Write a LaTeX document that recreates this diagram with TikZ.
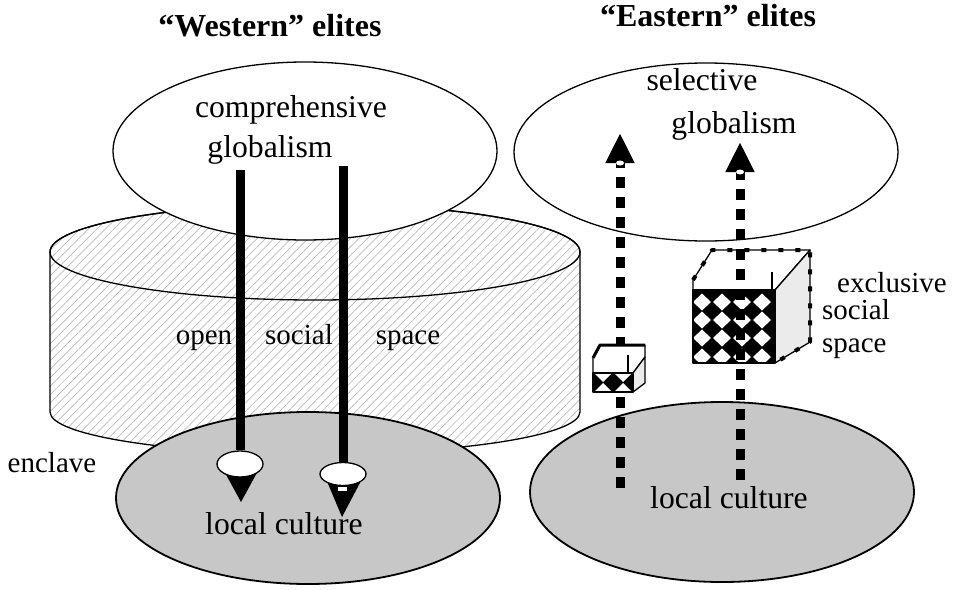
\documentclass[tikz,border=0pt]{standalone}
\usepackage{fontspec}
\setmainfont{Liberation Serif}
\usetikzlibrary{shapes.geometric,arrows.meta,patterns.meta}

\begin{document}
\begin{tikzpicture}[x=1pt,y=-1pt,line join=round,>={Triangle[width=27pt,length=30pt]},
    oval/.style={ellipse,draw,line width=1.3pt,minimum width=384pt,minimum height=178pt,inner sep=0pt},
    txt/.style={font=\fontsize{31.7}{36}\selectfont,inner sep=0pt,anchor=base},
    sidetxt/.style={font=\fontsize{29}{33}\selectfont,inner sep=0pt,anchor=base west},
    ttl/.style={font=\bfseries\fontsize{32}{36}\selectfont,inner sep=0pt,anchor=base},
    bulb/.style={ellipse,draw,fill=white,line width=1.3pt,inner sep=0pt},
    solidarr/.style={line width=9pt},
    dasharr/.style={line width=9pt,dash pattern=on 11pt off 9pt,->},
    teeth/.style={line width=4pt,dash pattern=on 5pt off 12pt}]
    \useasboundingbox (0,0) rectangle (953,589);
    % open social space
    \def\cylbody{(50,252) -- (50,412) arc[start angle=180,end angle=0,x radius=265,y radius=42] -- (580,252) arc[start angle=0,end angle=-180,x radius=265,y radius=48] -- cycle}
    \path[pattern={Lines[angle=45,distance=6pt,line width=0.7pt]},pattern color=gray!55] \cylbody;
    \draw[line width=1.3pt] \cylbody;
    \draw[line width=1.3pt] (315,252) ellipse[x radius=265,y radius=48];
    \node[sidetxt,anchor=base] (open) at (204,344) {open};
    \node[sidetxt,anchor=base] (social) at (299,344) {social};
    \node[sidetxt,anchor=base] (space) at (408,344) {space};
    \node[sidetxt,anchor=base] (enclave) at (52,472) {enclave};

    \node[ttl] (west) at (270,36) {``Western'' elites};
    \node[ttl] (east) at (708,27) {``Eastern'' elites};

    \node[oval,fill=white] (globW) at (305,151) {};
    \node[oval,fill=white] (globE) at (706,152) {};
    \node[oval,fill=black!22,line width=1.8pt,minimum height=172pt] (localW) at (308,498) {};
    \node[oval,fill=black!22,line width=1.8pt,minimum height=180pt] (localE) at (722,492) {};

    \node[txt] (compr) at (291,117) {comprehensive};
    \node[txt] (globtxtW) at (270,157) {globalism};
    \node[txt] (select) at (702,90) {selective};
    \node[txt] (globtxtE) at (734,133) {globalism};
    \node[txt] (localtxtW) at (284,534) {local culture};
    \node[txt] (localtxtE) at (729,508) {local culture};

    % western arrows
    \fill (223,469) -- (259,469) -- (241,502) -- cycle;
    \fill (326,479) -- (362,479) -- (342,517) -- cycle;
    \fill[white] (338,487) rectangle (347,491);
    \node[bulb,minimum width=46pt,minimum height=26pt] (bulbA) at (240,464) {};
    \node[bulb,minimum width=46pt,minimum height=23pt] (bulbB) at (343,474) {};
    \coordinate (srcA) at (240,170);
    \coordinate (srcB) at (343,166);
    \draw[solidarr] (srcA) -- (bulbA.north);
    \draw[solidarr] (srcB) -- (bulbB.north);

    % eastern arrows and boxes
    \coordinate (baseC) at (620,488);
    \coordinate (tipC) at (620,133);
    \draw[dasharr] (baseC) -- (tipC);
    \fill[white] (620,163) ellipse[x radius=4,y radius=2.5];

    \filldraw[fill=white,line width=1.3pt] (593,373) -- (593,358) -- (600,345) -- (645,345) -- (645,357) -- (633,373) -- cycle;
    \filldraw[fill=black!8,line width=1.3pt] (633,373) -- (645,357) -- (645,383) -- (633,392) -- cycle;
    \begin{scope}
        \clip (593,373) rectangle (633,392);
        \fill (593,373) rectangle (633,392);
        \foreach \px in {603,623} \foreach \py in {373,392}
            \fill[white] (\px,\py) +(-9,0) -- +(0,-9) -- +(9,0) -- +(0,9) -- cycle;
    \end{scope}
    \draw[line width=1.3pt] (593,373) rectangle (633,392);
    \draw[line width=1.3pt] (628,355) -- (628,373);
    \draw[line width=3pt] (593,358) -- (600,345) -- (645,345);

    \filldraw[fill=white,line width=1.3pt] (693,290) -- (693,280) -- (712,250) -- (810,250) -- (775,290) -- cycle;
    \filldraw[fill=black!8,line width=1.3pt] (775,290) -- (810,250) -- (810,342) -- (775,363) -- cycle;
    \begin{scope}
        \clip (693,290) rectangle (775,363);
        \fill (693,290) rectangle (775,363);
        \foreach \px in {702,722,742,762} \foreach \py in {302,320,338,357}
            \fill[white] (\px,\py) +(-9,0) -- +(0,-8.5) -- +(9,0) -- +(0,8.5) -- cycle;
    \end{scope}
    \draw[line width=1.3pt] (693,290) rectangle (775,363);
    \draw[line width=1.3pt] (772,272) -- (772,290);
    \draw[teeth] (693,280) -- (712,250) -- (810,250) -- (810,342) -- (775,363);

    \coordinate (baseD) at (740,480);
    \coordinate (tipD) at (740,142);
    \draw[dasharr] (baseD) -- (tipD);
    \fill[white] (740,172) ellipse[x radius=4,y radius=2.5];

    \node[sidetxt] (excl) at (837,292) {exclusive};
    \node[sidetxt] (excl2) at (822,319) {social};
    \node[sidetxt] (excl3) at (822,352) {space};
\end{tikzpicture}
\end{document}
